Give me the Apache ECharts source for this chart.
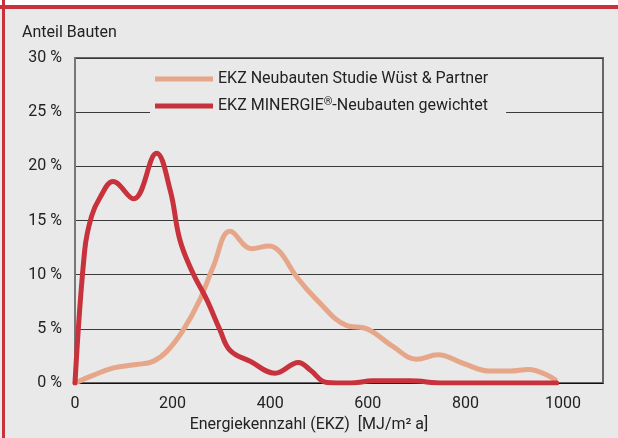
<!DOCTYPE html>
<html>
<head>
<meta charset="utf-8">
<script src="https://cdn.jsdelivr.net/npm/echarts@6/dist/echarts.min.js"></script>
<style>
  html, body { margin: 0; padding: 0; background: #e9e9e9; }
  #chart { width: 618px; height: 438px; }
</style>
</head>
<body>
<div id="chart"></div>
<script>
// EKZ in MJ/m2a, share of buildings in %
const wuestData = [
  [0, 0], [37, 0.7], [79, 1.4], [126, 1.7], [160, 2.0], [188, 2.9], [222, 4.9],
  [256, 7.7], [283, 10.7], [318, 14.0], [362, 12.4], [398, 12.65], [420, 12.1],
  [454, 9.8], [495, 7.7], [557, 5.3], [591, 5.1], [611, 4.7], [652, 3.35],
  [700, 2.2], [744, 2.6], [796, 1.8], [850, 1.1], [891, 1.1], [929, 1.25], [984, 0.3]
];
const minergieData = [
  [0, 0], [20, 12.3], [34, 15.4], [51, 17.1], [78, 18.6], [120, 17.0], [167, 21.2],
  [195, 17.8], [215, 13.2], [242, 10.1], [270, 7.7], [297, 4.9], [318, 3.0],
  [359, 2.0], [410, 0.9], [458, 1.9], [482, 1.2], [516, 0.05], [564, 0.0],
  [611, 0.2], [686, 0.2], [755, 0.0], [987, 0.0]
];
const seriesNames = ['EKZ Neubauten Studie Wüst & Partner', 'EKZ MINERGIE®-Neubauten gewichtet'];
const xTicks = [0, 200, 400, 600, 800, 1000];
const yTicks = [0, 5, 10, 15, 20, 25, 30];

const font = 'Roboto';
const fs = 16;
const chart = echarts.init(document.getElementById('chart'));

chart.setOption({
  backgroundColor: '#e9e9e9',
  animation: false,
  textStyle: { fontFamily: font },
  title: {
    text: 'Anteil Bauten',
    left: 17,
    top: 20,
    textStyle: { fontFamily: font, fontSize: fs, fontWeight: 'normal', color: '#222' }
  },
  graphic: [
    { type: 'rect', shape: { x: 0, y: 0, width: 618, height: 5 }, style: { fill: '#ffffff' }, z: 10 },
    { type: 'rect', shape: { x: 0, y: 5, width: 618, height: 4 }, style: { fill: '#c8323c' }, z: 10 },
    { type: 'rect', shape: { x: 2, y: 0, width: 3, height: 438 }, style: { fill: '#c8323c' }, z: 10 }
  ],
  legend: {
    orient: 'vertical',
    left: 150,
    top: 67,
    padding: [4, 18, 5, 5],
    itemGap: 10,
    itemWidth: 58,
    itemHeight: 5,
    icon: 'rect',
    backgroundColor: '#e9e9e9',
    data: seriesNames,
    formatter: function (name) {
      if (name.indexOf('®') >= 0) {
        const parts = name.split('®');
        return '{a|' + parts[0] + '}{s|®}{a|' + parts[1] + '}';
      }
      return '{a|' + name + '}';
    },
    textStyle: {
      fontFamily: font,
      fontSize: fs,
      color: '#222',
      rich: {
        a: { fontFamily: font, fontSize: fs, color: '#222' },
        s: { fontFamily: font, fontSize: 11, color: '#222', verticalAlign: 'top', padding: [0, 0, 7, 0] }
      }
    }
  },
  grid: {
    left: 75,
    right: 15,
    top: 58,
    bottom: 55,
    show: true,
    borderColor: '#666',
    borderWidth: 2,
    backgroundColor: 'transparent'
  },
  xAxis: {
    type: 'value',
    min: 0,
    max: 1082,
    interval: 200,
    name: 'Energiekennzahl (EKZ)  [MJ/m² a]',
    nameLocation: 'middle',
    nameGap: 33,
    nameTextStyle: { fontFamily: font, fontSize: fs, color: '#222', padding: [0, 60, 0, 0] },
    axisLine: { show: true, onZero: false, lineStyle: { color: '#111', width: 1 } },
    axisTick: { show: false },
    splitLine: { show: false },
    axisLabel: {
      fontFamily: font,
      fontSize: fs,
      color: '#222',
      margin: 13,
      showMaxLabel: false,
      formatter: function (v) { return xTicks.indexOf(v) >= 0 ? String(v) : ''; }
    }
  },
  yAxis: {
    type: 'value',
    min: 0,
    max: 30,
    interval: 5,
    axisLine: { show: true, lineStyle: { color: '#777', width: 2 } },
    axisTick: { show: false },
    splitLine: { show: true, lineStyle: { color: '#3a3a3a', width: 1.2 } },
    axisLabel: {
      fontFamily: font,
      fontSize: fs,
      color: '#222',
      margin: 13,
      formatter: function (v) { return yTicks.indexOf(v) >= 0 ? v + ' %' : ''; }
    }
  },
  series: [
    {
      name: seriesNames[0],
      type: 'line',
      smooth: 0.4,
      showSymbol: false,
      data: wuestData,
      itemStyle: { color: '#e6a68a' },
      lineStyle: { color: '#e6a68a', width: 5, cap: 'round', join: 'round' },
      z: 3
    },
    {
      name: seriesNames[1],
      type: 'line',
      smooth: 0.4,
      showSymbol: false,
      data: minergieData,
      itemStyle: { color: '#c8323c' },
      lineStyle: { color: '#c8323c', width: 5, cap: 'round', join: 'round' },
      z: 4
    }
  ]
});
</script>
</body>
</html>
